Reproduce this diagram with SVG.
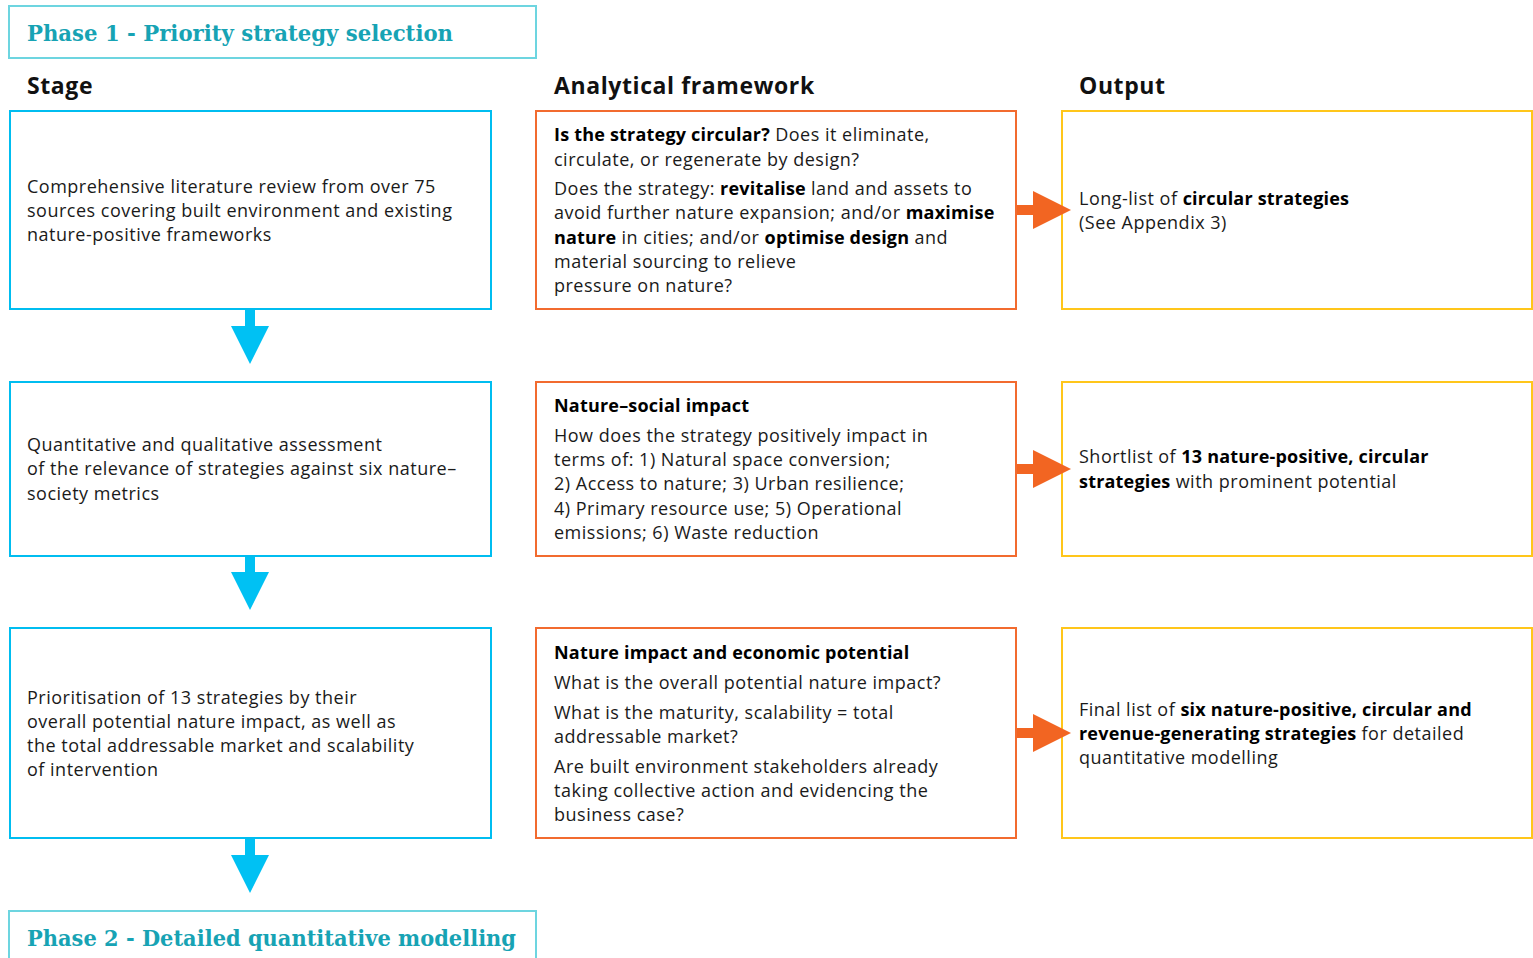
<svg xmlns="http://www.w3.org/2000/svg" width="1533" height="958" viewBox="0 0 1533 958">
<style>
.phase{fill:#fff;stroke:#6dd5e0;stroke-width:2}
.phaset{font-family:"DejaVu Serif",serif;font-weight:bold;font-size:23px;fill:#17a3b4}
.hdr{font-family:"Open Sans","Noto Sans",sans-serif;font-weight:bold;font-size:23px;letter-spacing:0.6px;fill:#111}
.stage{fill:#fff;stroke:#00bdf0;stroke-width:2}
.ana{fill:#fff;stroke:#f26b2f;stroke-width:2}
.out{fill:#fff;stroke:#ffc61a;stroke-width:2}
.t{font-family:"Open Sans","Noto Sans",sans-serif;font-size:18px;letter-spacing:0.5px;fill:#1a1a1a}
.b{font-weight:bold;fill:#000;letter-spacing:0.2px}
.darr{fill:#00c1f3}
.rarr{fill:#f26522}
</style>
<g id="phase1">
<rect class="phase" x="9" y="6" width="527" height="52"/>
<text class="phaset" x="27" y="41" textLength="426" lengthAdjust="spacingAndGlyphs">Phase 1 - Priority strategy selection</text>
</g>
<g id="headers">
<text class="hdr" x="27" y="94">Stage</text>
<text class="hdr" x="554" y="94">Analytical framework</text>
<text class="hdr" x="1079" y="94">Output</text>
</g>
<g id="stage1">
<rect class="stage" x="10" y="111" width="481" height="198"/>
<text class="t" x="27" y="193">Comprehensive literature review from over 75</text>
<text class="t" x="27" y="217">sources covering built environment and existing</text>
<text class="t" x="27" y="241">nature-positive frameworks</text>
</g>
<g id="stage2">
<rect class="stage" x="10" y="382" width="481" height="174"/>
<text class="t" x="27" y="451">Quantitative and qualitative assessment</text>
<text class="t" x="27" y="475">of the relevance of strategies against six nature–</text>
<text class="t" x="27" y="500">society metrics</text>
</g>
<g id="stage3">
<rect class="stage" x="10" y="628" width="481" height="210"/>
<text class="t" x="27" y="704">Prioritisation of 13 strategies by their</text>
<text class="t" x="27" y="728">overall potential nature impact, as well as</text>
<text class="t" x="27" y="752">the total addressable market and scalability</text>
<text class="t" x="27" y="776">of intervention</text>
</g>
<g id="ana1">
<rect class="ana" x="536" y="111" width="480" height="198"/>
<text class="t" x="554" y="141"><tspan class="b">Is the strategy circular?</tspan> Does it eliminate,</text>
<text class="t" x="554" y="166">circulate, or regenerate by design?</text>
<text class="t" x="554" y="195">Does the strategy: <tspan class="b">revitalise</tspan> land and assets to</text>
<text class="t" x="554" y="219">avoid further nature expansion; and/or <tspan class="b">maximise</tspan></text>
<text class="t" x="554" y="244"><tspan class="b">nature</tspan> in cities; and/or <tspan class="b">optimise design</tspan> and</text>
<text class="t" x="554" y="268">material sourcing to relieve</text>
<text class="t" x="554" y="292">pressure on nature?</text>
</g>
<g id="ana2">
<rect class="ana" x="536" y="382" width="480" height="174"/>
<text class="t b" x="554" y="412">Nature–social impact</text>
<text class="t" x="554" y="442">How does the strategy positively impact in</text>
<text class="t" x="554" y="466">terms of: 1) Natural space conversion;</text>
<text class="t" x="554" y="490">2) Access to nature; 3) Urban resilience;</text>
<text class="t" x="554" y="515">4) Primary resource use; 5) Operational</text>
<text class="t" x="554" y="539">emissions; 6) Waste reduction</text>
</g>
<g id="ana3">
<rect class="ana" x="536" y="628" width="480" height="210"/>
<text class="t b" x="554" y="659">Nature impact and economic potential</text>
<text class="t" x="554" y="689">What is the overall potential nature impact?</text>
<text class="t" x="554" y="719">What is the maturity, scalability = total</text>
<text class="t" x="554" y="743">addressable market?</text>
<text class="t" x="554" y="773">Are built environment stakeholders already</text>
<text class="t" x="554" y="797">taking collective action and evidencing the</text>
<text class="t" x="554" y="821">business case?</text>
</g>
<g id="out1">
<rect class="out" x="1062" y="111" width="470" height="198"/>
<text class="t" x="1079" y="205">Long-list of <tspan class="b">circular strategies</tspan></text>
<text class="t" x="1079" y="229">(See Appendix 3)</text>
</g>
<g id="out2">
<rect class="out" x="1062" y="382" width="470" height="174"/>
<text class="t" x="1079" y="463">Shortlist of <tspan class="b">13 nature-positive, circular</tspan></text>
<text class="t" x="1079" y="488"><tspan class="b">strategies</tspan> with prominent potential</text>
</g>
<g id="out3">
<rect class="out" x="1062" y="628" width="470" height="210"/>
<text class="t" x="1079" y="716">Final list of <tspan class="b">six nature-positive, circular and</tspan></text>
<text class="t" x="1079" y="740"><tspan class="b">revenue-generating strategies</tspan> for detailed</text>
<text class="t" x="1079" y="764">quantitative modelling</text>
</g>
<g id="phase2">
<rect class="phase" x="9" y="911" width="527" height="60"/>
<text class="phaset" x="27" y="946" textLength="489" lengthAdjust="spacingAndGlyphs">Phase 2 - Detailed quantitative modelling</text>
</g>
<g id="connectors">
<polygon class="darr" points="245,310 255,310 255,326 269,326 250,364 231,326 245,326"/>
<polygon class="darr" points="245,557 255,557 255,572 269,572 250,610 231,572 245,572"/>
<polygon class="darr" points="245,839 255,839 255,855 269,855 250,893 231,855 245,855"/>
<polygon class="rarr" points="1017,205 1033,205 1033,191 1071,210 1033,229 1033,215 1017,215"/>
<polygon class="rarr" points="1017,464 1033,464 1033,450 1071,469 1033,488 1033,474 1017,474"/>
<polygon class="rarr" points="1017,728 1033,728 1033,714 1071,733 1033,752 1033,738 1017,738"/>
</g>
</svg>
